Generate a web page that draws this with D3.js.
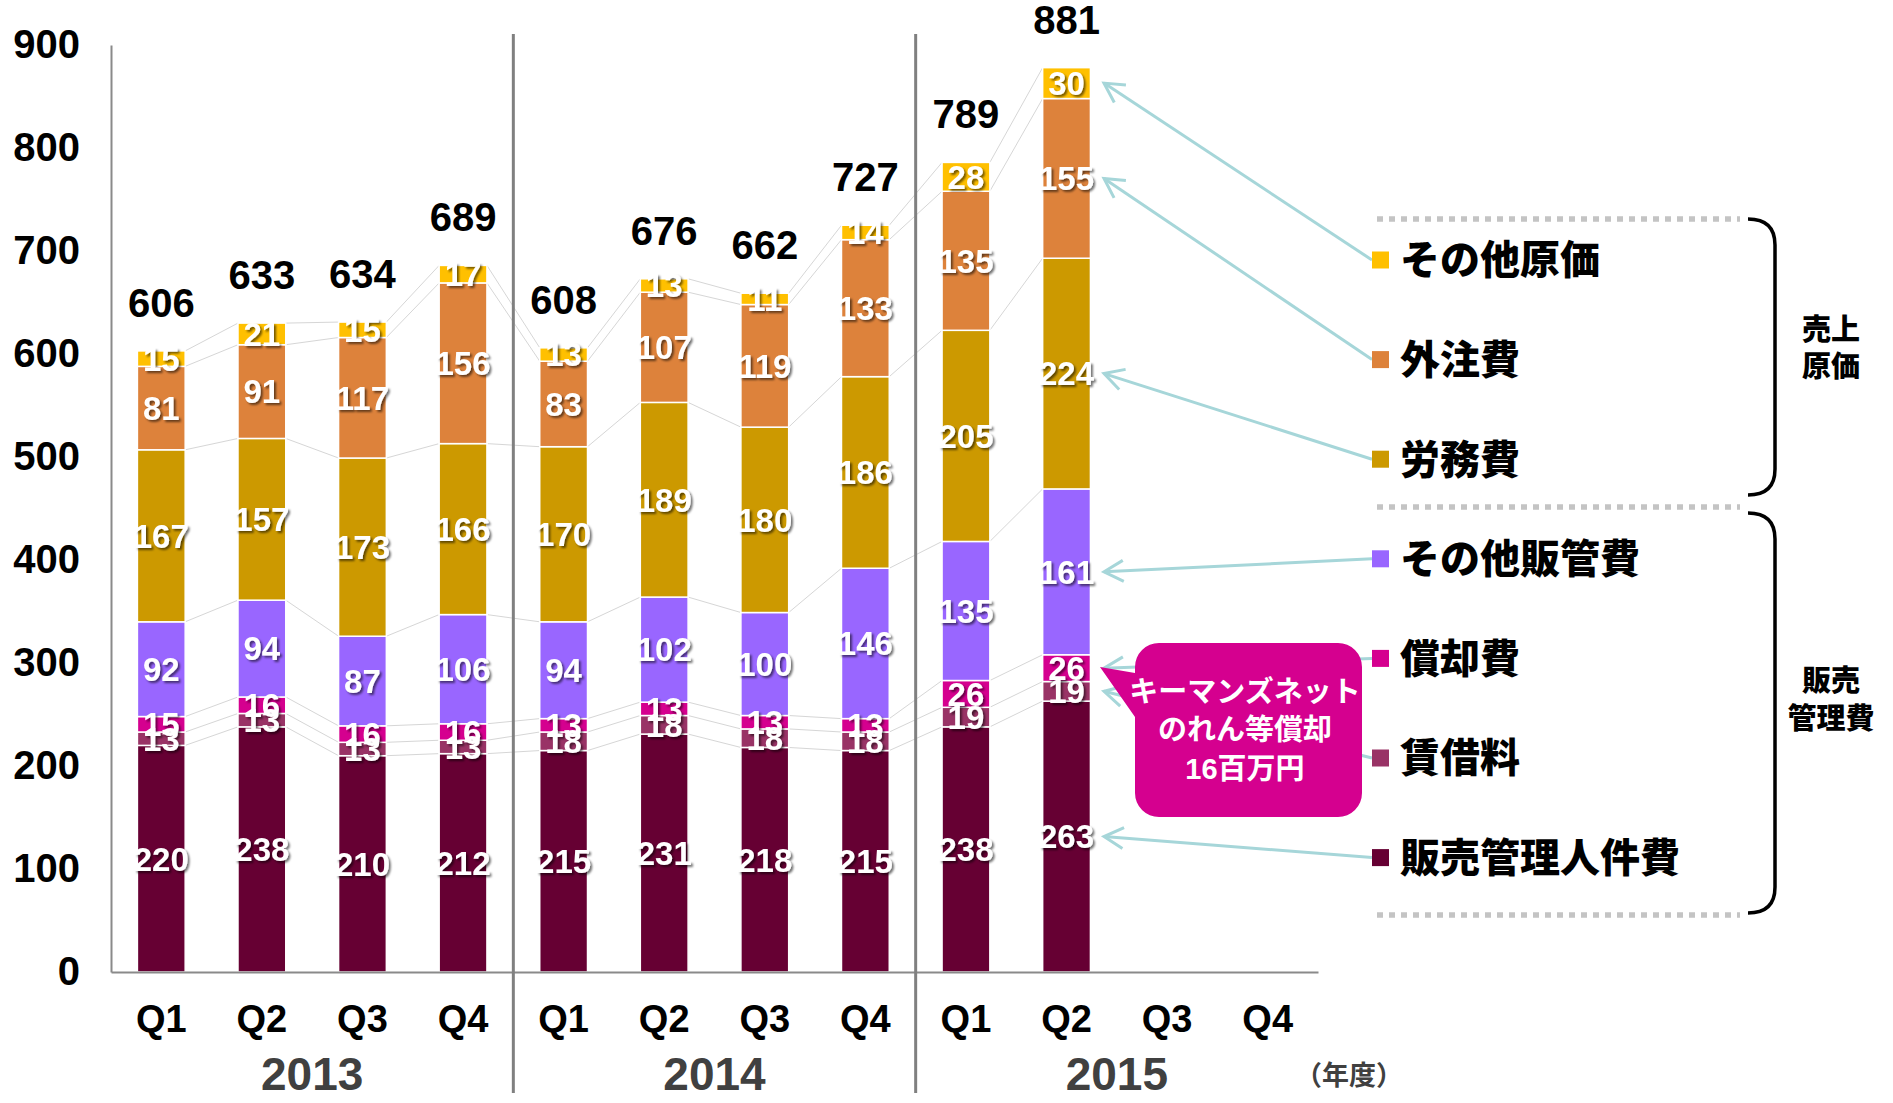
<!DOCTYPE html>
<html><head><meta charset="utf-8">
<script src="https://cdn.jsdelivr.net/npm/d3@7"></script>
<style>body{margin:0;background:#fff} svg{display:block}</style>
</head><body><svg id="c" width="1893" height="1103"></svg>
<script>
// ---------- data ----------
const periods = ["2013Q1","2013Q2","2013Q3","2013Q4","2014Q1","2014Q2","2014Q3","2014Q4","2015Q1","2015Q2","2015Q3","2015Q4"];
const quarterLabels = ["Q1","Q2","Q3","Q4","Q1","Q2","Q3","Q4","Q1","Q2","Q3","Q4"];
const years = ["2013","2014","2015"];
const seriesNames = ["販売管理人件費","賃借料","償却費","その他販管費","労務費","外注費","その他原価"];
const seriesColors = ["#660033","#993366","#D5008F","#9966FF","#CC9900","#DD823B","#FFC000"];
const personnelCost = [220,238,210,212,215,231,218,215,238,263];
const rent          = [13,13,13,13,18,18,18,18,19,19];
const amortization  = [15,16,16,16,13,13,13,13,26,26];
const otherSGA      = [92,94,87,106,94,102,100,146,135,161];
const labor         = [167,157,173,166,170,189,180,186,205,224];
const outsourcing   = [81,91,117,156,83,107,119,133,135,155];
const otherCost     = [15,21,15,17,13,13,11,14,28,30];
const totals        = [606,633,634,689,608,676,662,727,789,881];
const yTicks = [0,100,200,300,400,500,600,700,800,900];
const groupLabels = [["売上","原価"],["販売","管理費"]];
const yearUnit = "（年度）";
const calloutLines = ["キーマンズネット","のれん等償却","16百万円"];

// ---------- setup ----------
const seriesValues = [personnelCost, rent, amortization, otherSGA, labor, outsourcing, otherCost];
const rows = personnelCost.map((_, i) => {
  const r = {period: periods[i]};
  seriesNames.forEach((n, j) => r[n] = seriesValues[j][i]);
  return r;
});
const stacked = d3.stack().keys(seriesNames)(rows);

const NUM = "'Liberation Sans', Arial, 'Noto Sans CJK JP', sans-serif";
const JP = "'Noto Sans CJK JP', 'Noto Sans CJK SC', sans-serif";

const svg = d3.select("#c");
const defs = svg.append("defs");
const f = defs.append("filter").attr("id","sh").attr("x","-20%").attr("y","-20%").attr("width","140%").attr("height","140%");
f.append("feDropShadow").attr("dx",2).attr("dy",2).attr("stdDeviation",1.2).attr("flood-color","#000").attr("flood-opacity",0.55);

const x = d3.scaleBand().domain(periods).range([111, 1318]).padding(0);
const y = d3.scaleLinear().domain([0, 900]).range([972, 45]);
const bw = x.bandwidth() * 0.475;
const bx = p => x(p) + (x.bandwidth() - bw) / 2;

// connectors
const conn = svg.append("g");
stacked.forEach(layer => {
  for (let i = 0; i < layer.length - 1; i++) {
    conn.append("line")
      .attr("x1", bx(periods[i]) + bw).attr("y1", y(layer[i][1]))
      .attr("x2", bx(periods[i+1])).attr("y2", y(layer[i+1][1]))
      .attr("stroke", "#d6d6d6").attr("stroke-width", 1);
  }
});

// bars
svg.append("g").selectAll("g").data(stacked).join("g")
  .attr("fill", (d, j) => seriesColors[j])
  .selectAll("rect").data(d => d).join("rect")
  .attr("x", (d, i) => bx(periods[i]))
  .attr("width", bw)
  .attr("y", d => y(d[1]))
  .attr("height", d => y(d[0]) - y(d[1]))
  .attr("stroke", "#fff").attr("stroke-width", 1.5);

// y axis
const ya = svg.append("g").attr("transform", "translate(111,0)")
  .call(d3.axisLeft(y).tickValues(yTicks).tickSize(0).tickSizeOuter(0).tickPadding(31));
ya.select(".domain").attr("stroke", "#8a8a8a").attr("stroke-width", 2);
ya.selectAll("text").attr("font-family", NUM).attr("font-weight", "bold").attr("font-size", 40).attr("fill", "#000");

// x axis
const xa = svg.append("g").attr("transform", "translate(0,972)")
  .call(d3.axisBottom(x).tickSize(0).tickSizeOuter(0).tickFormat((d, i) => quarterLabels[i]));
xa.select(".domain").attr("stroke", "#8a8a8a").attr("stroke-width", 2);
xa.selectAll("text").attr("y", 46).attr("dy", "0.36em")
  .attr("font-family", NUM).attr("font-weight", "bold").attr("font-size", 38).attr("fill", "#000");

// year separators
[4, 8].forEach(k => {
  svg.append("line").attr("x1", x(periods[k])).attr("x2", x(periods[k]))
    .attr("y1", 34).attr("y2", 1093).attr("stroke", "#808080").attr("stroke-width", 3);
});
// year labels
years.forEach((yr, k) => {
  const cx = (x(periods[k*4]) + x(periods[k*4+3]) + x.bandwidth()) / 2;
  svg.append("text").attr("x", cx).attr("y", 1073).attr("dy", "0.36em")
    .attr("text-anchor", "middle").attr("font-family", NUM).attr("font-weight", "bold")
    .attr("font-size", 46).attr("fill", "#404040").text(yr);
});
svg.append("text").attr("x", 1349).attr("y", 1075).attr("dy", "0.36em").attr("text-anchor", "middle")
  .attr("font-family", JP).attr("font-weight", "bold").attr("font-size", 27).attr("fill", "#404040").text(yearUnit);

// segment labels
const lab = svg.append("g").attr("filter", "url(#sh)");
stacked.forEach((layer, j) => {
  layer.forEach((d, i) => {
    lab.append("text")
      .attr("x", x(periods[i]) + x.bandwidth() / 2)
      .attr("y", y((d[0] + d[1]) / 2)).attr("dy", "0.36em")
      .attr("text-anchor", "middle").attr("font-family", NUM).attr("font-weight", "bold")
      .attr("font-size", 33).attr("fill", "#fff").text(d[1] - d[0]);
  });
});

// totals
const topLayer = stacked[stacked.length - 1];
totals.forEach((t, i) => {
  svg.append("text").attr("x", x(periods[i]) + x.bandwidth() / 2).attr("y", y(topLayer[i][1]) - 34)
    .attr("text-anchor", "middle").attr("font-family", NUM).attr("font-weight", "bold")
    .attr("font-size", 40).attr("fill", "#000").text(t);
});

// legend
const legendY = k => 260 + k * 99.6;
const legendOrder = seriesNames.map((n, j) => j).reverse();
const teal = "#A6D6D9";
const arrows = svg.append("g");
const lastIdx = personnelCost.length - 1;
legendOrder.forEach((j, k) => {
  const sx = 1372, sy = legendY(k);
  const d = stacked[j][lastIdx];
  const tx = 1104, ty = y((d[0] + d[1]) / 2);
  arrows.append("line").attr("x1", sx).attr("y1", sy).attr("x2", tx).attr("y2", ty)
    .attr("stroke", teal).attr("stroke-width", 3);
  const ang = Math.atan2(sy - ty, sx - tx);
  const L = 22, a = 0.5;
  arrows.append("path")
    .attr("d", `M${tx + L*Math.cos(ang - a)},${ty + L*Math.sin(ang - a)}L${tx},${ty}L${tx + L*Math.cos(ang + a)},${ty + L*Math.sin(ang + a)}`)
    .attr("fill", "none").attr("stroke", teal).attr("stroke-width", 3);
});

// callout
const r = 24, L0 = 1135, R0 = 1362, T0 = 643, B0 = 817;
svg.append("path").attr("d",
  `M${L0+r},${T0}H${R0-r}A${r},${r} 0 0 1 ${R0},${T0+r}V${B0-r}A${r},${r} 0 0 1 ${R0-r},${B0}H${L0+r}A${r},${r} 0 0 1 ${L0},${B0-r}V717L1100,667L${L0},673V${T0+r}A${r},${r} 0 0 1 ${L0+r},${T0}Z`)
  .attr("fill", "#D5008F");
calloutLines.forEach((t, i) => {
  svg.append("text").attr("x", 1245).attr("y", [692, 730, 769][i]).attr("dy", "0.36em")
    .attr("text-anchor", "middle").attr("font-family", i === 2 ? NUM + "," + JP : JP).attr("font-weight", "bold")
    .attr("font-size", 29).attr("fill", "#fff").text(t);
});

legendOrder.forEach((j, k) => {
  svg.append("rect").attr("x", 1372).attr("y", legendY(k) - 8.5).attr("width", 17).attr("height", 17)
    .attr("fill", seriesColors[j]);
  svg.append("text").attr("x", 1400).attr("y", legendY(k)).attr("dy", "0.36em")
    .attr("font-family", JP).attr("font-weight", 900).attr("font-size", 40).attr("fill", "#000")
    .text(seriesNames[j]);
});

// dotted separators
[219, 507, 915].forEach(yy => {
  svg.append("line").attr("x1", 1377).attr("x2", 1740).attr("y1", yy).attr("y2", yy)
    .attr("stroke", "#c4c4c4").attr("stroke-width", 5.5).attr("stroke-dasharray", "6,6");
});
// brackets
[[219, 495], [513, 913]].forEach(([t, b]) => {
  svg.append("path").attr("d", `M1748,${t}Q1775,${t} 1775,${t+26}V${b-26}Q1775,${b} 1748,${b}`)
    .attr("fill", "none").attr("stroke", "#000").attr("stroke-width", 3.5);
});
// group labels
[[330, 367], [681, 719]].forEach((ys, g) => {
  groupLabels[g].forEach((t, i) => {
    svg.append("text").attr("x", 1831).attr("y", ys[i]).attr("dy", "0.36em").attr("text-anchor", "middle")
      .attr("font-family", JP).attr("font-weight", 900).attr("font-size", 29).attr("fill", "#000").text(t);
  });
});
</script></body></html>
